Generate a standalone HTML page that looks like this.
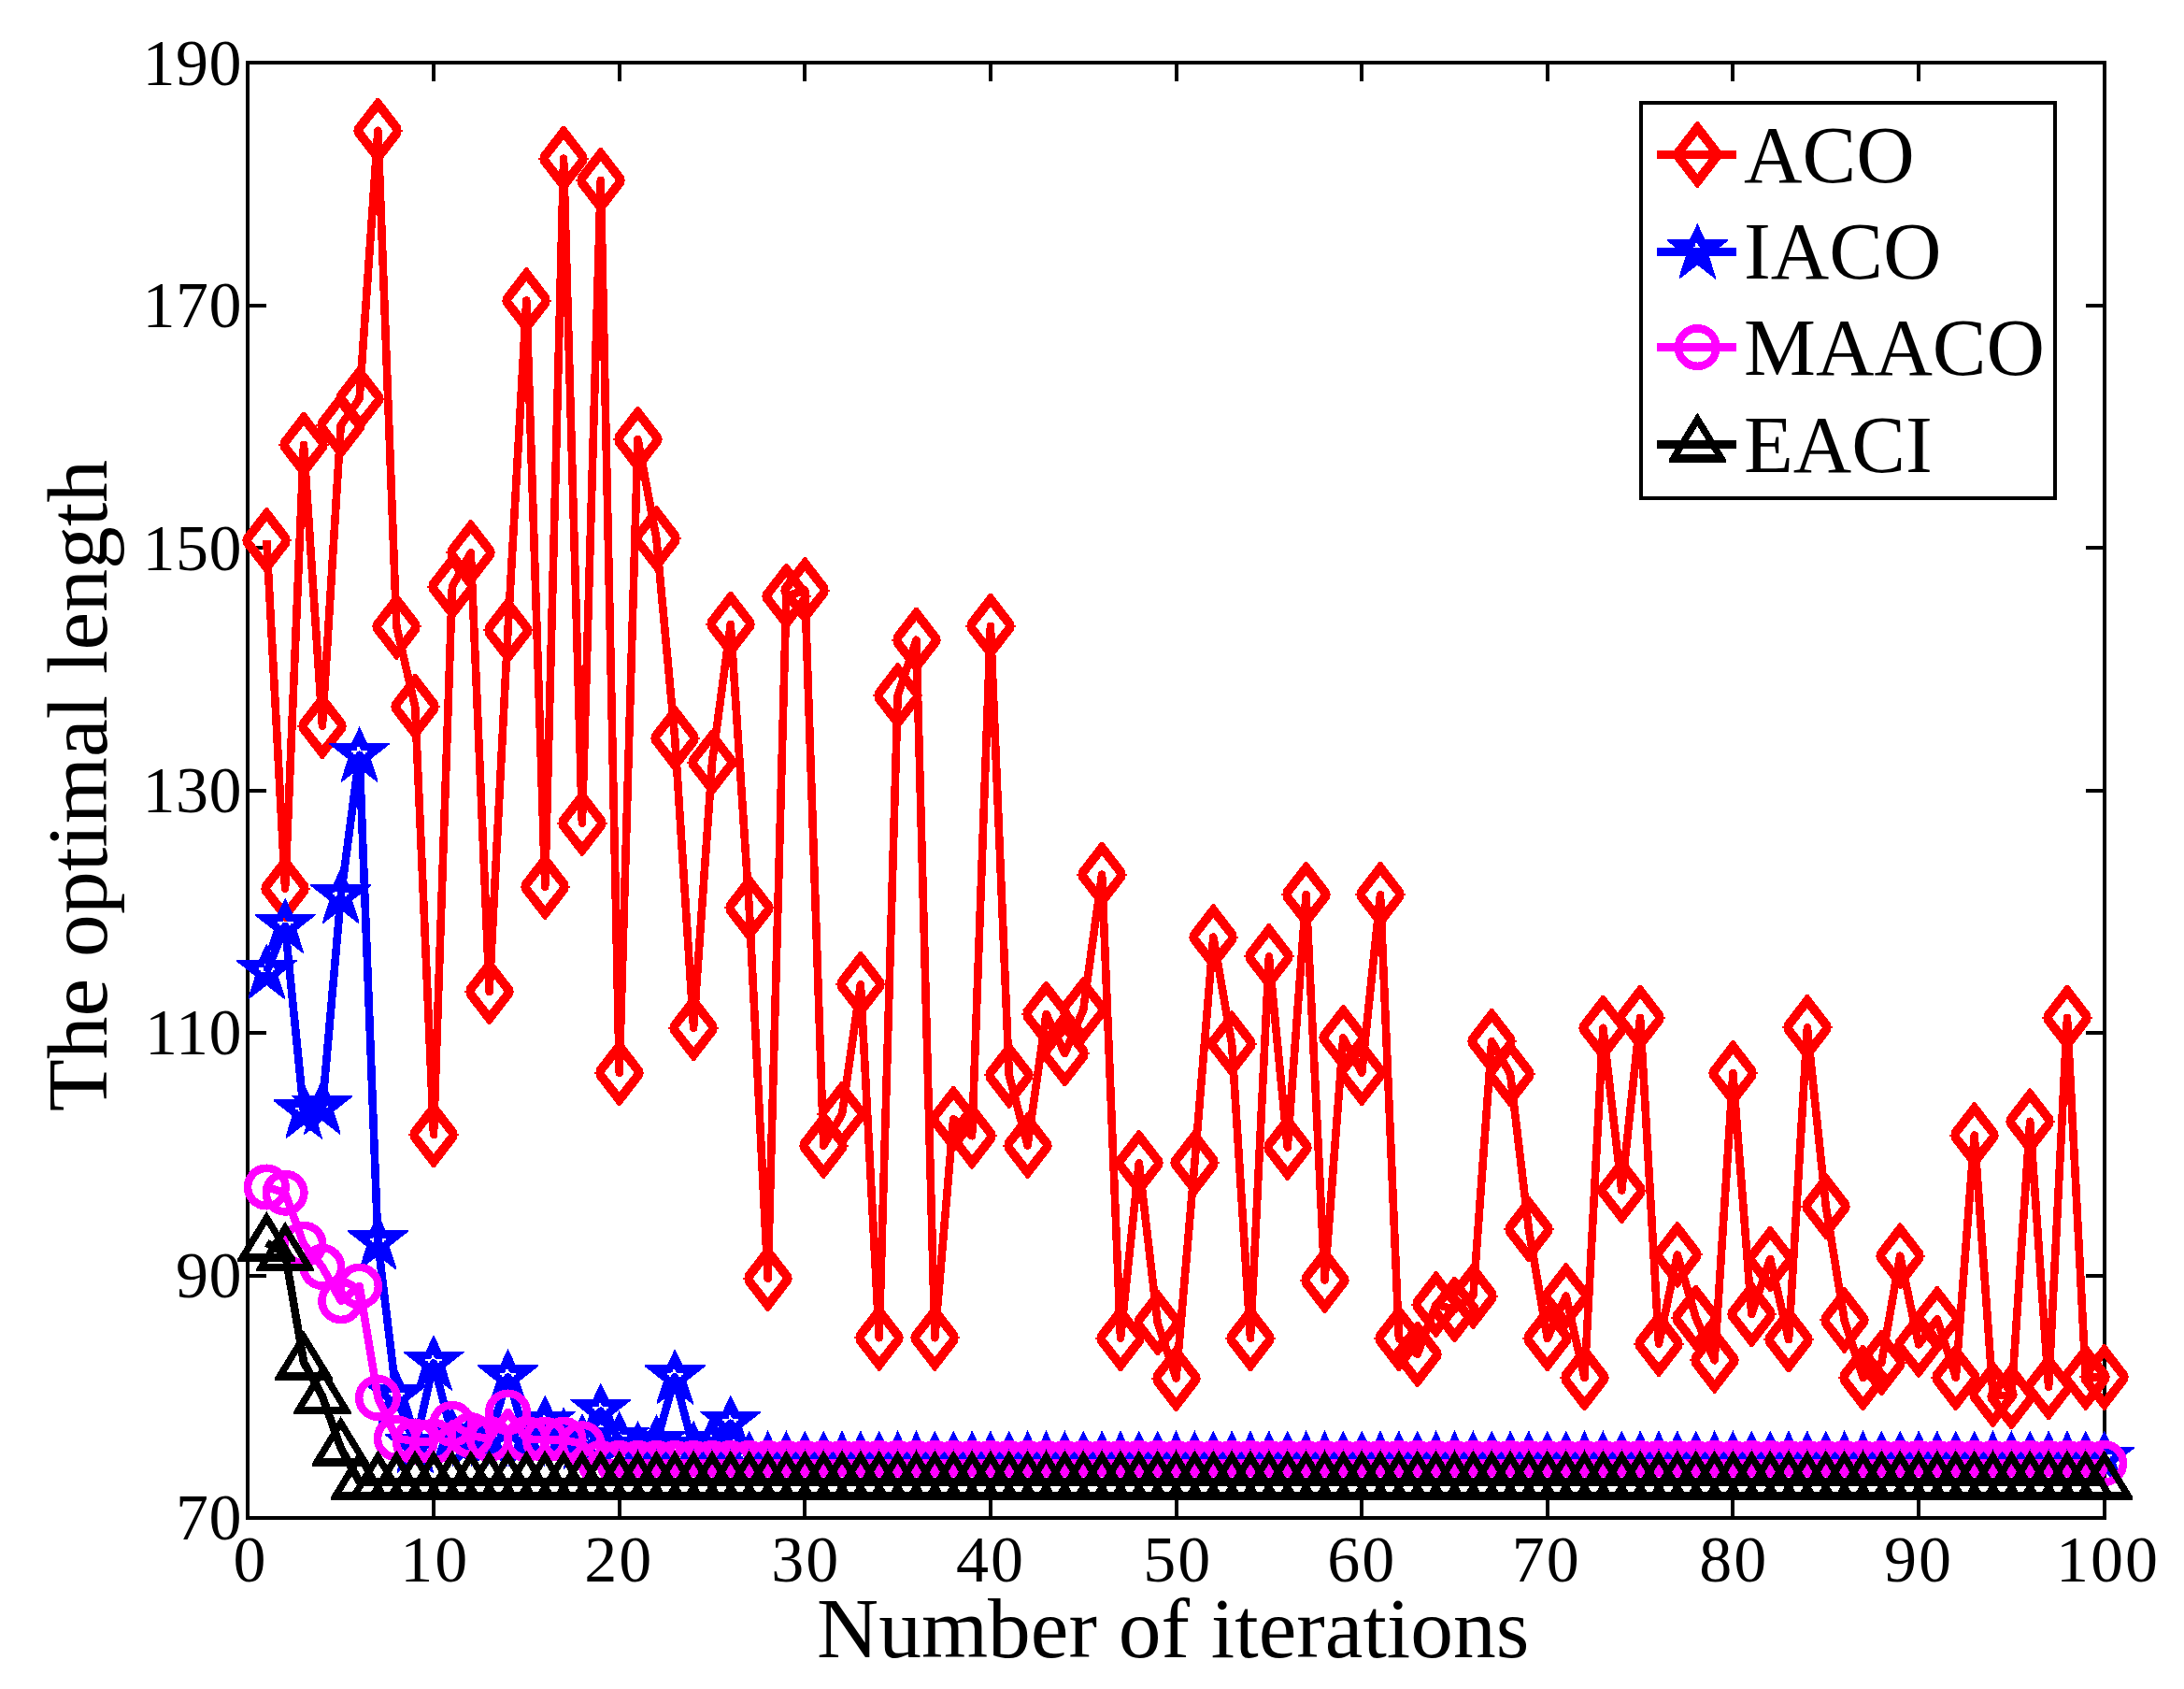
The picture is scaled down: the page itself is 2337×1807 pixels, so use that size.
<!DOCTYPE html>
<html><head><meta charset="utf-8"><title>Convergence curves</title>
<style>html,body{margin:0;padding:0;background:#fff}svg{display:block}text{font-family:"Liberation Serif","Times New Roman",serif;fill:#000}</style></head><body>
<svg width="2337" height="1807" viewBox="0 0 2337 1807">
<rect width="2337" height="1807" fill="#fff"/>
<defs><path id="mD" d="M-1.3 -35.2 L1.3 -35.2 L25.0 -4.4 L25.0 -1.0 L26.6 -1.0 L26.6 1.0 L25.0 1.0 L25.0 4.4 L1.3 35.2 L-1.3 35.2 L-25.0 4.4 L-25.0 1.0 L-26.6 1.0 L-26.6 -1.0 L-25.0 -1.0 L-25.0 -4.4Z M0.0 -20.4 L16.0 0.0 L0.0 20.4 L-16.0 0.0Z" fill="#f00" fill-rule="evenodd"/><path id="mS" d="M0.0 -30.5 L8.3 -13.0 L32.5 -13.0 L32.5 -11.5 L12.4 4.3 L19.5 26.5 L19.5 29.5 L0.0 14.4 L-19.5 29.5 L-19.5 26.5 L-12.4 4.3 L-32.5 -11.5 L-32.5 -13.0 L-8.3 -13.0Z M-8.6 -4.3 L-8.6 -2.4 L-6.4 -2.4 L-6.4 -0.3 L6.3 -0.3 L6.3 -2.4 L8.5 -2.4 L8.5 -4.3 L2.1 -4.8 L0.5 -6.7 L0.0 -8.8 L-2.2 -8.8 L-2.2 -5.1Z" fill="#00f" fill-rule="evenodd"/><circle id="mC" r="20.25" fill="none" stroke="#f0f" stroke-width="8.6"/><path id="mT" d="M0.0 -34.0 L30.8 16.5 L30.8 19.6 L-30.8 19.6 L-30.8 16.5Z M0.0 -19.7 L18.8 11.0 L-18.8 11.0Z" fill="#000" fill-rule="evenodd"/></defs>
<g stroke="#000" stroke-width="4" fill="none" shape-rendering="crispEdges">
<rect x="265.4" y="67.2" width="1986.3" height="1556.7"/>
<path d="M464.0 1623.9v-20 M464.0 67.2v20"/><path d="M662.7 1623.9v-20 M662.7 67.2v20"/><path d="M861.3 1623.9v-20 M861.3 67.2v20"/><path d="M1059.9 1623.9v-20 M1059.9 67.2v20"/><path d="M1258.5 1623.9v-20 M1258.5 67.2v20"/><path d="M1457.2 1623.9v-20 M1457.2 67.2v20"/><path d="M1655.8 1623.9v-20 M1655.8 67.2v20"/><path d="M1854.4 1623.9v-20 M1854.4 67.2v20"/><path d="M2053.1 1623.9v-20 M2053.1 67.2v20"/><path d="M265.4 1364.5h20 M2251.7 1364.5h-20"/><path d="M265.4 1105.0h20 M2251.7 1105.0h-20"/><path d="M265.4 845.6h20 M2251.7 845.6h-20"/><path d="M265.4 586.1h20 M2251.7 586.1h-20"/><path d="M265.4 326.6h20 M2251.7 326.6h-20"/>
</g>
<g shape-rendering="crispEdges">
<polyline points="285.3,578.3 305.1,950.6 325.0,475.8 344.9,776.8 364.7,455.1 384.6,426.5 404.4,139.8 424.3,670.4 444.2,756.0 464.0,1214.0 483.9,627.6 503.8,591.3 523.6,1060.9 543.5,674.3 563.3,321.5 583.2,948.6 603.1,169.7 622.9,880.6 642.8,193.0 662.7,1147.8 682.5,470.0 702.4,576.2 722.2,789.8 742.1,1099.8 762.0,815.7 781.8,667.8 801.7,971.4 821.6,1367.8 841.4,638.0 861.3,631.5 881.2,1225.6 901.0,1191.9 920.9,1053.1 940.7,1431.3 960.6,744.4 980.5,684.7 1000.3,1431.3 1020.2,1197.1 1040.1,1215.3 1059.9,669.8 1079.8,1150.4 1099.6,1225.6 1119.5,1084.9 1139.4,1127.1 1159.2,1080.4 1179.1,935.7 1199.0,1431.9 1218.8,1244.2 1238.7,1415.0 1258.5,1474.7 1278.4,1243.8 1298.3,1002.5 1318.1,1116.7 1338.0,1431.9 1357.9,1023.3 1377.7,1227.5 1397.6,957.1 1417.5,1369.6 1437.3,1110.2 1457.2,1147.8 1477.0,957.1 1496.9,1431.9 1516.8,1448.8 1536.6,1395.6 1556.5,1400.8 1576.4,1386.5 1596.2,1114.1 1616.1,1149.1 1635.9,1315.2 1655.8,1431.9 1675.7,1386.5 1695.5,1474.1 1715.4,1099.8 1735.3,1273.6 1755.1,1088.8 1775.0,1437.7 1794.9,1342.4 1814.7,1409.9 1834.6,1455.3 1854.4,1148.3 1874.3,1406.0 1894.2,1346.8 1914.0,1433.2 1933.9,1099.3 1953.8,1290.5 1973.6,1412.4 1993.5,1473.8 2013.3,1457.9 2033.2,1343.7 2053.1,1438.4 2072.9,1411.2 2092.8,1473.8 2112.7,1214.5 2132.5,1491.6 2152.4,1494.2 2172.2,1199.7 2192.1,1483.8 2212.0,1088.8 2231.8,1473.4 2251.7,1473.4" fill="none" stroke="#f00" stroke-width="8.6" stroke-linejoin="round"/>
<use href="#mD" x="285.3" y="578.3"/><use href="#mD" x="305.1" y="950.6"/><use href="#mD" x="325.0" y="475.8"/><use href="#mD" x="344.9" y="776.8"/><use href="#mD" x="364.7" y="455.1"/><use href="#mD" x="384.6" y="426.5"/><use href="#mD" x="404.4" y="139.8"/><use href="#mD" x="424.3" y="670.4"/><use href="#mD" x="444.2" y="756.0"/><use href="#mD" x="464.0" y="1214.0"/><use href="#mD" x="483.9" y="627.6"/><use href="#mD" x="503.8" y="591.3"/><use href="#mD" x="523.6" y="1060.9"/><use href="#mD" x="543.5" y="674.3"/><use href="#mD" x="563.3" y="321.5"/><use href="#mD" x="583.2" y="948.6"/><use href="#mD" x="603.1" y="169.7"/><use href="#mD" x="622.9" y="880.6"/><use href="#mD" x="642.8" y="193.0"/><use href="#mD" x="662.7" y="1147.8"/><use href="#mD" x="682.5" y="470.0"/><use href="#mD" x="702.4" y="576.2"/><use href="#mD" x="722.2" y="789.8"/><use href="#mD" x="742.1" y="1099.8"/><use href="#mD" x="762.0" y="815.7"/><use href="#mD" x="781.8" y="667.8"/><use href="#mD" x="801.7" y="971.4"/><use href="#mD" x="821.6" y="1367.8"/><use href="#mD" x="841.4" y="638.0"/><use href="#mD" x="861.3" y="631.5"/><use href="#mD" x="881.2" y="1225.6"/><use href="#mD" x="901.0" y="1191.9"/><use href="#mD" x="920.9" y="1053.1"/><use href="#mD" x="940.7" y="1431.3"/><use href="#mD" x="960.6" y="744.4"/><use href="#mD" x="980.5" y="684.7"/><use href="#mD" x="1000.3" y="1431.3"/><use href="#mD" x="1020.2" y="1197.1"/><use href="#mD" x="1040.1" y="1215.3"/><use href="#mD" x="1059.9" y="669.8"/><use href="#mD" x="1079.8" y="1150.4"/><use href="#mD" x="1099.6" y="1225.6"/><use href="#mD" x="1119.5" y="1084.9"/><use href="#mD" x="1139.4" y="1127.1"/><use href="#mD" x="1159.2" y="1080.4"/><use href="#mD" x="1179.1" y="935.7"/><use href="#mD" x="1199.0" y="1431.9"/><use href="#mD" x="1218.8" y="1244.2"/><use href="#mD" x="1238.7" y="1415.0"/><use href="#mD" x="1258.5" y="1474.7"/><use href="#mD" x="1278.4" y="1243.8"/><use href="#mD" x="1298.3" y="1002.5"/><use href="#mD" x="1318.1" y="1116.7"/><use href="#mD" x="1338.0" y="1431.9"/><use href="#mD" x="1357.9" y="1023.3"/><use href="#mD" x="1377.7" y="1227.5"/><use href="#mD" x="1397.6" y="957.1"/><use href="#mD" x="1417.5" y="1369.6"/><use href="#mD" x="1437.3" y="1110.2"/><use href="#mD" x="1457.2" y="1147.8"/><use href="#mD" x="1477.0" y="957.1"/><use href="#mD" x="1496.9" y="1431.9"/><use href="#mD" x="1516.8" y="1448.8"/><use href="#mD" x="1536.6" y="1395.6"/><use href="#mD" x="1556.5" y="1400.8"/><use href="#mD" x="1576.4" y="1386.5"/><use href="#mD" x="1596.2" y="1114.1"/><use href="#mD" x="1616.1" y="1149.1"/><use href="#mD" x="1635.9" y="1315.2"/><use href="#mD" x="1655.8" y="1431.9"/><use href="#mD" x="1675.7" y="1386.5"/><use href="#mD" x="1695.5" y="1474.1"/><use href="#mD" x="1715.4" y="1099.8"/><use href="#mD" x="1735.3" y="1273.6"/><use href="#mD" x="1755.1" y="1088.8"/><use href="#mD" x="1775.0" y="1437.7"/><use href="#mD" x="1794.9" y="1342.4"/><use href="#mD" x="1814.7" y="1409.9"/><use href="#mD" x="1834.6" y="1455.3"/><use href="#mD" x="1854.4" y="1148.3"/><use href="#mD" x="1874.3" y="1406.0"/><use href="#mD" x="1894.2" y="1346.8"/><use href="#mD" x="1914.0" y="1433.2"/><use href="#mD" x="1933.9" y="1099.3"/><use href="#mD" x="1953.8" y="1290.5"/><use href="#mD" x="1973.6" y="1412.4"/><use href="#mD" x="1993.5" y="1473.8"/><use href="#mD" x="2013.3" y="1457.9"/><use href="#mD" x="2033.2" y="1343.7"/><use href="#mD" x="2053.1" y="1438.4"/><use href="#mD" x="2072.9" y="1411.2"/><use href="#mD" x="2092.8" y="1473.8"/><use href="#mD" x="2112.7" y="1214.5"/><use href="#mD" x="2132.5" y="1491.6"/><use href="#mD" x="2152.4" y="1494.2"/><use href="#mD" x="2172.2" y="1199.7"/><use href="#mD" x="2192.1" y="1483.8"/><use href="#mD" x="2212.0" y="1088.8"/><use href="#mD" x="2231.8" y="1473.4"/><use href="#mD" x="2251.7" y="1473.4"/>
<polyline points="285.3,1039.9 305.1,990.8 325.0,1189.3 344.9,1184.8 364.7,959.1 384.6,807.7 404.4,1329.2 424.3,1494.2 444.2,1546.7 464.0,1458.5 483.9,1535.7 503.8,1539.6 523.6,1539.6 543.5,1473.4 563.3,1539.6 583.2,1522.7 603.1,1535.7 622.9,1542.2 642.8,1509.7 662.7,1539.6 682.5,1550.0 702.4,1543.5 722.2,1473.4 742.1,1550.0 762.0,1543.5 781.8,1522.7 801.7,1560.7 821.6,1560.7 841.4,1560.7 861.3,1560.7 881.2,1560.7 901.0,1560.7 920.9,1560.7 940.7,1560.7 960.6,1560.7 980.5,1560.7 1000.3,1560.7 1020.2,1560.7 1040.1,1560.7 1059.9,1560.7 1079.8,1560.7 1099.6,1560.7 1119.5,1560.7 1139.4,1560.7 1159.2,1560.7 1179.1,1560.7 1199.0,1560.7 1218.8,1560.7 1238.7,1560.7 1258.5,1560.7 1278.4,1560.7 1298.3,1560.7 1318.1,1560.7 1338.0,1560.7 1357.9,1560.7 1377.7,1560.7 1397.6,1560.7 1417.5,1560.7 1437.3,1560.7 1457.2,1560.7 1477.0,1560.7 1496.9,1560.7 1516.8,1560.7 1536.6,1560.7 1556.5,1560.7 1576.4,1560.7 1596.2,1560.7 1616.1,1560.7 1635.9,1560.7 1655.8,1560.7 1675.7,1560.7 1695.5,1560.7 1715.4,1560.7 1735.3,1560.7 1755.1,1560.7 1775.0,1560.7 1794.9,1560.7 1814.7,1560.7 1834.6,1560.7 1854.4,1560.7 1874.3,1560.7 1894.2,1560.7 1914.0,1560.7 1933.9,1560.7 1953.8,1560.7 1973.6,1560.7 1993.5,1560.7 2013.3,1560.7 2033.2,1560.7 2053.1,1560.7 2072.9,1560.7 2092.8,1560.7 2112.7,1560.7 2132.5,1560.7 2152.4,1560.7 2172.2,1560.7 2192.1,1560.7 2212.0,1560.7 2231.8,1560.7 2251.7,1560.7" fill="none" stroke="#00f" stroke-width="8.6" stroke-linejoin="round"/>
<use href="#mS" x="285.3" y="1039.9"/><use href="#mS" x="305.1" y="990.8"/><use href="#mS" x="325.0" y="1189.3"/><use href="#mS" x="344.9" y="1184.8"/><use href="#mS" x="364.7" y="959.1"/><use href="#mS" x="384.6" y="807.7"/><use href="#mS" x="404.4" y="1329.2"/><use href="#mS" x="424.3" y="1494.2"/><use href="#mS" x="444.2" y="1546.7"/><use href="#mS" x="464.0" y="1458.5"/><use href="#mS" x="483.9" y="1535.7"/><use href="#mS" x="503.8" y="1539.6"/><use href="#mS" x="523.6" y="1539.6"/><use href="#mS" x="543.5" y="1473.4"/><use href="#mS" x="563.3" y="1539.6"/><use href="#mS" x="583.2" y="1522.7"/><use href="#mS" x="603.1" y="1535.7"/><use href="#mS" x="622.9" y="1542.2"/><use href="#mS" x="642.8" y="1509.7"/><use href="#mS" x="662.7" y="1539.6"/><use href="#mS" x="682.5" y="1550.0"/><use href="#mS" x="702.4" y="1543.5"/><use href="#mS" x="722.2" y="1473.4"/><use href="#mS" x="742.1" y="1550.0"/><use href="#mS" x="762.0" y="1543.5"/><use href="#mS" x="781.8" y="1522.7"/><use href="#mS" x="801.7" y="1560.7"/><use href="#mS" x="821.6" y="1560.7"/><use href="#mS" x="841.4" y="1560.7"/><use href="#mS" x="861.3" y="1560.7"/><use href="#mS" x="881.2" y="1560.7"/><use href="#mS" x="901.0" y="1560.7"/><use href="#mS" x="920.9" y="1560.7"/><use href="#mS" x="940.7" y="1560.7"/><use href="#mS" x="960.6" y="1560.7"/><use href="#mS" x="980.5" y="1560.7"/><use href="#mS" x="1000.3" y="1560.7"/><use href="#mS" x="1020.2" y="1560.7"/><use href="#mS" x="1040.1" y="1560.7"/><use href="#mS" x="1059.9" y="1560.7"/><use href="#mS" x="1079.8" y="1560.7"/><use href="#mS" x="1099.6" y="1560.7"/><use href="#mS" x="1119.5" y="1560.7"/><use href="#mS" x="1139.4" y="1560.7"/><use href="#mS" x="1159.2" y="1560.7"/><use href="#mS" x="1179.1" y="1560.7"/><use href="#mS" x="1199.0" y="1560.7"/><use href="#mS" x="1218.8" y="1560.7"/><use href="#mS" x="1238.7" y="1560.7"/><use href="#mS" x="1258.5" y="1560.7"/><use href="#mS" x="1278.4" y="1560.7"/><use href="#mS" x="1298.3" y="1560.7"/><use href="#mS" x="1318.1" y="1560.7"/><use href="#mS" x="1338.0" y="1560.7"/><use href="#mS" x="1357.9" y="1560.7"/><use href="#mS" x="1377.7" y="1560.7"/><use href="#mS" x="1397.6" y="1560.7"/><use href="#mS" x="1417.5" y="1560.7"/><use href="#mS" x="1437.3" y="1560.7"/><use href="#mS" x="1457.2" y="1560.7"/><use href="#mS" x="1477.0" y="1560.7"/><use href="#mS" x="1496.9" y="1560.7"/><use href="#mS" x="1516.8" y="1560.7"/><use href="#mS" x="1536.6" y="1560.7"/><use href="#mS" x="1556.5" y="1560.7"/><use href="#mS" x="1576.4" y="1560.7"/><use href="#mS" x="1596.2" y="1560.7"/><use href="#mS" x="1616.1" y="1560.7"/><use href="#mS" x="1635.9" y="1560.7"/><use href="#mS" x="1655.8" y="1560.7"/><use href="#mS" x="1675.7" y="1560.7"/><use href="#mS" x="1695.5" y="1560.7"/><use href="#mS" x="1715.4" y="1560.7"/><use href="#mS" x="1735.3" y="1560.7"/><use href="#mS" x="1755.1" y="1560.7"/><use href="#mS" x="1775.0" y="1560.7"/><use href="#mS" x="1794.9" y="1560.7"/><use href="#mS" x="1814.7" y="1560.7"/><use href="#mS" x="1834.6" y="1560.7"/><use href="#mS" x="1854.4" y="1560.7"/><use href="#mS" x="1874.3" y="1560.7"/><use href="#mS" x="1894.2" y="1560.7"/><use href="#mS" x="1914.0" y="1560.7"/><use href="#mS" x="1933.9" y="1560.7"/><use href="#mS" x="1953.8" y="1560.7"/><use href="#mS" x="1973.6" y="1560.7"/><use href="#mS" x="1993.5" y="1560.7"/><use href="#mS" x="2013.3" y="1560.7"/><use href="#mS" x="2033.2" y="1560.7"/><use href="#mS" x="2053.1" y="1560.7"/><use href="#mS" x="2072.9" y="1560.7"/><use href="#mS" x="2092.8" y="1560.7"/><use href="#mS" x="2112.7" y="1560.7"/><use href="#mS" x="2132.5" y="1560.7"/><use href="#mS" x="2152.4" y="1560.7"/><use href="#mS" x="2172.2" y="1560.7"/><use href="#mS" x="2192.1" y="1560.7"/><use href="#mS" x="2212.0" y="1560.7"/><use href="#mS" x="2231.8" y="1560.7"/><use href="#mS" x="2251.7" y="1560.7"/>
<polyline points="285.3,1270.0 305.1,1276.2 325.0,1331.2 344.9,1355.4 364.7,1391.7 384.6,1376.1 404.4,1495.5 424.3,1538.7 444.2,1542.2 464.0,1542.2 483.9,1523.5 503.8,1535.7 523.6,1539.6 543.5,1511.0 563.3,1539.6 583.2,1540.2 603.1,1540.2 622.9,1544.8 642.8,1565.5 662.7,1565.5 682.5,1565.5 702.4,1565.5 722.2,1565.5 742.1,1565.5 762.0,1565.5 781.8,1565.5 801.7,1565.5 821.6,1565.5 841.4,1565.5 861.3,1565.5 881.2,1565.5 901.0,1565.5 920.9,1565.5 940.7,1565.5 960.6,1565.5 980.5,1565.5 1000.3,1565.5 1020.2,1565.5 1040.1,1565.5 1059.9,1565.5 1079.8,1565.5 1099.6,1565.5 1119.5,1565.5 1139.4,1565.5 1159.2,1565.5 1179.1,1565.5 1199.0,1565.5 1218.8,1565.5 1238.7,1565.5 1258.5,1565.5 1278.4,1565.5 1298.3,1565.5 1318.1,1565.5 1338.0,1565.5 1357.9,1565.5 1377.7,1565.5 1397.6,1565.5 1417.5,1565.5 1437.3,1565.5 1457.2,1565.5 1477.0,1565.5 1496.9,1565.5 1516.8,1565.5 1536.6,1565.5 1556.5,1565.5 1576.4,1565.5 1596.2,1565.5 1616.1,1565.5 1635.9,1565.5 1655.8,1565.5 1675.7,1565.5 1695.5,1565.5 1715.4,1565.5 1735.3,1565.5 1755.1,1565.5 1775.0,1565.5 1794.9,1565.5 1814.7,1565.5 1834.6,1565.5 1854.4,1565.5 1874.3,1565.5 1894.2,1565.5 1914.0,1565.5 1933.9,1565.5 1953.8,1565.5 1973.6,1565.5 1993.5,1565.5 2013.3,1565.5 2033.2,1565.5 2053.1,1565.5 2072.9,1565.5 2092.8,1565.5 2112.7,1565.5 2132.5,1565.5 2152.4,1565.5 2172.2,1565.5 2192.1,1565.5 2212.0,1565.5 2231.8,1565.5 2251.7,1565.5" fill="none" stroke="#f0f" stroke-width="8.6" stroke-linejoin="round"/>
<use href="#mC" x="285.3" y="1270.0"/><use href="#mC" x="305.1" y="1276.2"/><use href="#mC" x="325.0" y="1331.2"/><use href="#mC" x="344.9" y="1355.4"/><use href="#mC" x="364.7" y="1391.7"/><use href="#mC" x="384.6" y="1376.1"/><use href="#mC" x="404.4" y="1495.5"/><use href="#mC" x="424.3" y="1538.7"/><use href="#mC" x="444.2" y="1542.2"/><use href="#mC" x="464.0" y="1542.2"/><use href="#mC" x="483.9" y="1523.5"/><use href="#mC" x="503.8" y="1535.7"/><use href="#mC" x="523.6" y="1539.6"/><use href="#mC" x="543.5" y="1511.0"/><use href="#mC" x="563.3" y="1539.6"/><use href="#mC" x="583.2" y="1540.2"/><use href="#mC" x="603.1" y="1540.2"/><use href="#mC" x="622.9" y="1544.8"/><use href="#mC" x="642.8" y="1565.5"/><use href="#mC" x="662.7" y="1565.5"/><use href="#mC" x="682.5" y="1565.5"/><use href="#mC" x="702.4" y="1565.5"/><use href="#mC" x="722.2" y="1565.5"/><use href="#mC" x="742.1" y="1565.5"/><use href="#mC" x="762.0" y="1565.5"/><use href="#mC" x="781.8" y="1565.5"/><use href="#mC" x="801.7" y="1565.5"/><use href="#mC" x="821.6" y="1565.5"/><use href="#mC" x="841.4" y="1565.5"/><use href="#mC" x="861.3" y="1565.5"/><use href="#mC" x="881.2" y="1565.5"/><use href="#mC" x="901.0" y="1565.5"/><use href="#mC" x="920.9" y="1565.5"/><use href="#mC" x="940.7" y="1565.5"/><use href="#mC" x="960.6" y="1565.5"/><use href="#mC" x="980.5" y="1565.5"/><use href="#mC" x="1000.3" y="1565.5"/><use href="#mC" x="1020.2" y="1565.5"/><use href="#mC" x="1040.1" y="1565.5"/><use href="#mC" x="1059.9" y="1565.5"/><use href="#mC" x="1079.8" y="1565.5"/><use href="#mC" x="1099.6" y="1565.5"/><use href="#mC" x="1119.5" y="1565.5"/><use href="#mC" x="1139.4" y="1565.5"/><use href="#mC" x="1159.2" y="1565.5"/><use href="#mC" x="1179.1" y="1565.5"/><use href="#mC" x="1199.0" y="1565.5"/><use href="#mC" x="1218.8" y="1565.5"/><use href="#mC" x="1238.7" y="1565.5"/><use href="#mC" x="1258.5" y="1565.5"/><use href="#mC" x="1278.4" y="1565.5"/><use href="#mC" x="1298.3" y="1565.5"/><use href="#mC" x="1318.1" y="1565.5"/><use href="#mC" x="1338.0" y="1565.5"/><use href="#mC" x="1357.9" y="1565.5"/><use href="#mC" x="1377.7" y="1565.5"/><use href="#mC" x="1397.6" y="1565.5"/><use href="#mC" x="1417.5" y="1565.5"/><use href="#mC" x="1437.3" y="1565.5"/><use href="#mC" x="1457.2" y="1565.5"/><use href="#mC" x="1477.0" y="1565.5"/><use href="#mC" x="1496.9" y="1565.5"/><use href="#mC" x="1516.8" y="1565.5"/><use href="#mC" x="1536.6" y="1565.5"/><use href="#mC" x="1556.5" y="1565.5"/><use href="#mC" x="1576.4" y="1565.5"/><use href="#mC" x="1596.2" y="1565.5"/><use href="#mC" x="1616.1" y="1565.5"/><use href="#mC" x="1635.9" y="1565.5"/><use href="#mC" x="1655.8" y="1565.5"/><use href="#mC" x="1675.7" y="1565.5"/><use href="#mC" x="1695.5" y="1565.5"/><use href="#mC" x="1715.4" y="1565.5"/><use href="#mC" x="1735.3" y="1565.5"/><use href="#mC" x="1755.1" y="1565.5"/><use href="#mC" x="1775.0" y="1565.5"/><use href="#mC" x="1794.9" y="1565.5"/><use href="#mC" x="1814.7" y="1565.5"/><use href="#mC" x="1834.6" y="1565.5"/><use href="#mC" x="1854.4" y="1565.5"/><use href="#mC" x="1874.3" y="1565.5"/><use href="#mC" x="1894.2" y="1565.5"/><use href="#mC" x="1914.0" y="1565.5"/><use href="#mC" x="1933.9" y="1565.5"/><use href="#mC" x="1953.8" y="1565.5"/><use href="#mC" x="1973.6" y="1565.5"/><use href="#mC" x="1993.5" y="1565.5"/><use href="#mC" x="2013.3" y="1565.5"/><use href="#mC" x="2033.2" y="1565.5"/><use href="#mC" x="2053.1" y="1565.5"/><use href="#mC" x="2072.9" y="1565.5"/><use href="#mC" x="2092.8" y="1565.5"/><use href="#mC" x="2112.7" y="1565.5"/><use href="#mC" x="2132.5" y="1565.5"/><use href="#mC" x="2152.4" y="1565.5"/><use href="#mC" x="2172.2" y="1565.5"/><use href="#mC" x="2192.1" y="1565.5"/><use href="#mC" x="2212.0" y="1565.5"/><use href="#mC" x="2231.8" y="1565.5"/><use href="#mC" x="2251.7" y="1565.5"/>
<polyline points="285.3,1329.9 305.1,1340.8 325.0,1457.3 344.9,1493.8 364.7,1549.2 384.6,1585.4 404.4,1585.4 424.3,1585.4 444.2,1585.4 464.0,1585.4 483.9,1585.4 503.8,1585.4 523.6,1585.4 543.5,1585.4 563.3,1585.4 583.2,1585.4 603.1,1585.4 622.9,1585.4 642.8,1585.4 662.7,1585.4 682.5,1585.4 702.4,1585.4 722.2,1585.4 742.1,1585.4 762.0,1585.4 781.8,1585.4 801.7,1585.4 821.6,1585.4 841.4,1585.4 861.3,1585.4 881.2,1585.4 901.0,1585.4 920.9,1585.4 940.7,1585.4 960.6,1585.4 980.5,1585.4 1000.3,1585.4 1020.2,1585.4 1040.1,1585.4 1059.9,1585.4 1079.8,1585.4 1099.6,1585.4 1119.5,1585.4 1139.4,1585.4 1159.2,1585.4 1179.1,1585.4 1199.0,1585.4 1218.8,1585.4 1238.7,1585.4 1258.5,1585.4 1278.4,1585.4 1298.3,1585.4 1318.1,1585.4 1338.0,1585.4 1357.9,1585.4 1377.7,1585.4 1397.6,1585.4 1417.5,1585.4 1437.3,1585.4 1457.2,1585.4 1477.0,1585.4 1496.9,1585.4 1516.8,1585.4 1536.6,1585.4 1556.5,1585.4 1576.4,1585.4 1596.2,1585.4 1616.1,1585.4 1635.9,1585.4 1655.8,1585.4 1675.7,1585.4 1695.5,1585.4 1715.4,1585.4 1735.3,1585.4 1755.1,1585.4 1775.0,1585.4 1794.9,1585.4 1814.7,1585.4 1834.6,1585.4 1854.4,1585.4 1874.3,1585.4 1894.2,1585.4 1914.0,1585.4 1933.9,1585.4 1953.8,1585.4 1973.6,1585.4 1993.5,1585.4 2013.3,1585.4 2033.2,1585.4 2053.1,1585.4 2072.9,1585.4 2092.8,1585.4 2112.7,1585.4 2132.5,1585.4 2152.4,1585.4 2172.2,1585.4 2192.1,1585.4 2212.0,1585.4 2231.8,1585.4 2251.7,1585.4" fill="none" stroke="#000" stroke-width="8.6" stroke-linejoin="round"/>
<use href="#mT" x="285.3" y="1329.9"/><use href="#mT" x="305.1" y="1340.8"/><use href="#mT" x="325.0" y="1457.3"/><use href="#mT" x="344.9" y="1493.8"/><use href="#mT" x="364.7" y="1549.2"/><use href="#mT" x="384.6" y="1585.4"/><use href="#mT" x="404.4" y="1585.4"/><use href="#mT" x="424.3" y="1585.4"/><use href="#mT" x="444.2" y="1585.4"/><use href="#mT" x="464.0" y="1585.4"/><use href="#mT" x="483.9" y="1585.4"/><use href="#mT" x="503.8" y="1585.4"/><use href="#mT" x="523.6" y="1585.4"/><use href="#mT" x="543.5" y="1585.4"/><use href="#mT" x="563.3" y="1585.4"/><use href="#mT" x="583.2" y="1585.4"/><use href="#mT" x="603.1" y="1585.4"/><use href="#mT" x="622.9" y="1585.4"/><use href="#mT" x="642.8" y="1585.4"/><use href="#mT" x="662.7" y="1585.4"/><use href="#mT" x="682.5" y="1585.4"/><use href="#mT" x="702.4" y="1585.4"/><use href="#mT" x="722.2" y="1585.4"/><use href="#mT" x="742.1" y="1585.4"/><use href="#mT" x="762.0" y="1585.4"/><use href="#mT" x="781.8" y="1585.4"/><use href="#mT" x="801.7" y="1585.4"/><use href="#mT" x="821.6" y="1585.4"/><use href="#mT" x="841.4" y="1585.4"/><use href="#mT" x="861.3" y="1585.4"/><use href="#mT" x="881.2" y="1585.4"/><use href="#mT" x="901.0" y="1585.4"/><use href="#mT" x="920.9" y="1585.4"/><use href="#mT" x="940.7" y="1585.4"/><use href="#mT" x="960.6" y="1585.4"/><use href="#mT" x="980.5" y="1585.4"/><use href="#mT" x="1000.3" y="1585.4"/><use href="#mT" x="1020.2" y="1585.4"/><use href="#mT" x="1040.1" y="1585.4"/><use href="#mT" x="1059.9" y="1585.4"/><use href="#mT" x="1079.8" y="1585.4"/><use href="#mT" x="1099.6" y="1585.4"/><use href="#mT" x="1119.5" y="1585.4"/><use href="#mT" x="1139.4" y="1585.4"/><use href="#mT" x="1159.2" y="1585.4"/><use href="#mT" x="1179.1" y="1585.4"/><use href="#mT" x="1199.0" y="1585.4"/><use href="#mT" x="1218.8" y="1585.4"/><use href="#mT" x="1238.7" y="1585.4"/><use href="#mT" x="1258.5" y="1585.4"/><use href="#mT" x="1278.4" y="1585.4"/><use href="#mT" x="1298.3" y="1585.4"/><use href="#mT" x="1318.1" y="1585.4"/><use href="#mT" x="1338.0" y="1585.4"/><use href="#mT" x="1357.9" y="1585.4"/><use href="#mT" x="1377.7" y="1585.4"/><use href="#mT" x="1397.6" y="1585.4"/><use href="#mT" x="1417.5" y="1585.4"/><use href="#mT" x="1437.3" y="1585.4"/><use href="#mT" x="1457.2" y="1585.4"/><use href="#mT" x="1477.0" y="1585.4"/><use href="#mT" x="1496.9" y="1585.4"/><use href="#mT" x="1516.8" y="1585.4"/><use href="#mT" x="1536.6" y="1585.4"/><use href="#mT" x="1556.5" y="1585.4"/><use href="#mT" x="1576.4" y="1585.4"/><use href="#mT" x="1596.2" y="1585.4"/><use href="#mT" x="1616.1" y="1585.4"/><use href="#mT" x="1635.9" y="1585.4"/><use href="#mT" x="1655.8" y="1585.4"/><use href="#mT" x="1675.7" y="1585.4"/><use href="#mT" x="1695.5" y="1585.4"/><use href="#mT" x="1715.4" y="1585.4"/><use href="#mT" x="1735.3" y="1585.4"/><use href="#mT" x="1755.1" y="1585.4"/><use href="#mT" x="1775.0" y="1585.4"/><use href="#mT" x="1794.9" y="1585.4"/><use href="#mT" x="1814.7" y="1585.4"/><use href="#mT" x="1834.6" y="1585.4"/><use href="#mT" x="1854.4" y="1585.4"/><use href="#mT" x="1874.3" y="1585.4"/><use href="#mT" x="1894.2" y="1585.4"/><use href="#mT" x="1914.0" y="1585.4"/><use href="#mT" x="1933.9" y="1585.4"/><use href="#mT" x="1953.8" y="1585.4"/><use href="#mT" x="1973.6" y="1585.4"/><use href="#mT" x="1993.5" y="1585.4"/><use href="#mT" x="2013.3" y="1585.4"/><use href="#mT" x="2033.2" y="1585.4"/><use href="#mT" x="2053.1" y="1585.4"/><use href="#mT" x="2072.9" y="1585.4"/><use href="#mT" x="2092.8" y="1585.4"/><use href="#mT" x="2112.7" y="1585.4"/><use href="#mT" x="2132.5" y="1585.4"/><use href="#mT" x="2152.4" y="1585.4"/><use href="#mT" x="2172.2" y="1585.4"/><use href="#mT" x="2192.1" y="1585.4"/><use href="#mT" x="2212.0" y="1585.4"/><use href="#mT" x="2231.8" y="1585.4"/><use href="#mT" x="2251.7" y="1585.4"/>
</g>
<g font-size="70">
<text x="268.0" y="1691.8" text-anchor="middle" letter-spacing="2">0</text><text x="465.2" y="1691.8" text-anchor="middle" letter-spacing="2">10</text><text x="662.2" y="1691.8" text-anchor="middle" letter-spacing="2">20</text><text x="862.3" y="1691.8" text-anchor="middle" letter-spacing="2">30</text><text x="1060.0" y="1691.8" text-anchor="middle" letter-spacing="2">40</text><text x="1260.2" y="1691.8" text-anchor="middle" letter-spacing="2">50</text><text x="1457.2" y="1691.8" text-anchor="middle" letter-spacing="2">60</text><text x="1654.8" y="1691.8" text-anchor="middle" letter-spacing="2">70</text><text x="1855.2" y="1691.8" text-anchor="middle" letter-spacing="2">80</text><text x="2052.9" y="1691.8" text-anchor="middle" letter-spacing="2">90</text><text x="2255.4" y="1691.8" text-anchor="middle" letter-spacing="2">100</text><text x="258.9" y="1647.3" text-anchor="end" letter-spacing="0.5">70</text><text x="258.9" y="1387.9" text-anchor="end" letter-spacing="0.5">90</text><text x="258.9" y="1128.4" text-anchor="end" letter-spacing="0.5">110</text><text x="258.9" y="869.0" text-anchor="end" letter-spacing="0.5">130</text><text x="258.9" y="609.5" text-anchor="end" letter-spacing="0.5">150</text><text x="258.9" y="350.0" text-anchor="end" letter-spacing="0.5">170</text><text x="258.9" y="90.6" text-anchor="end" letter-spacing="0.5">190</text>
</g>
<text x="1255.2" y="1772.9" font-size="91.5" text-anchor="middle">Number of iterations</text>
<text transform="translate(113.5,840.6) rotate(-90)" font-size="91.67" text-anchor="middle">The optimal length</text>
<rect x="1756" y="110" width="443" height="423" fill="#fff" stroke="#000" stroke-width="4" shape-rendering="crispEdges"/>
<g shape-rendering="crispEdges">
<path d="M1773.2 165.4H1858.2" stroke="#f00" stroke-width="8.6"/><use href="#mD" x="1816.3" y="165.4"/>
<path d="M1773.2 269.3H1858.2" stroke="#00f" stroke-width="8.6"/><use href="#mS" x="1816.3" y="269.3"/>
<path d="M1773.2 371.6H1858.2" stroke="#f0f" stroke-width="8.6"/><use href="#mC" x="1816.3" y="371.6"/>
<path d="M1773.2 475.4H1858.2" stroke="#000" stroke-width="8.6"/><use href="#mT" x="1816.3" y="475.4"/>
</g>
<g font-size="86.5">
<text x="1866" y="194.8">ACO</text><text x="1866" y="298.3">IACO</text><text x="1866" y="400.5">MAACO</text><text x="1866" y="505.1">EACI</text>
</g>
</svg>
</body></html>
